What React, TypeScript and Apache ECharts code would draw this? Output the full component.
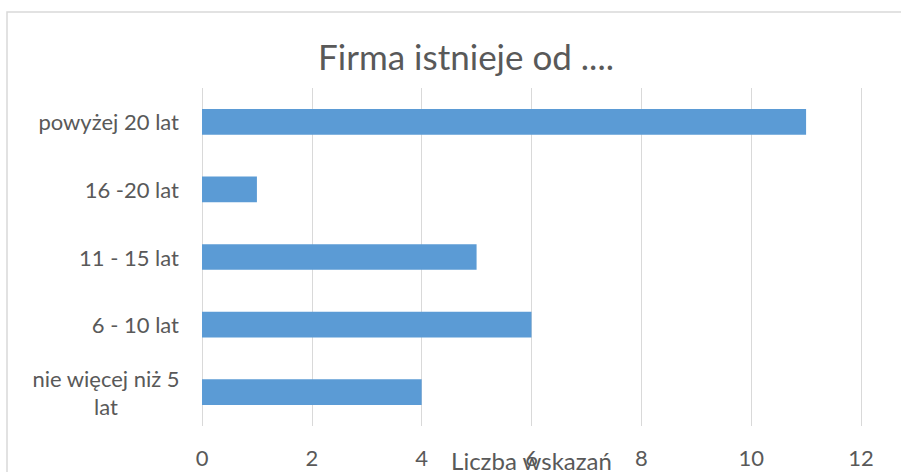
import React, { useEffect, useRef } from "react";
import * as echarts from "echarts";

const title = "Firma istnieje od ....";
const categories = [
  "nie więcej niż 5\nlat",
  "6 - 10 lat",
  "11 - 15 lat",
  "16 -20 lat",
  "powyżej 20 lat",
];
const values = [4, 6, 5, 1, 11];
const xAxisName = "Liczba wskazań";
const xMin = 0;
const xMax = 12;
const xInterval = 2;

const FONT = "Lato, 'Noto Sans', sans-serif";
const GREY = "#595959";

export default function App() {
  const ref = useRef<HTMLDivElement>(null);
  useEffect(() => {
    if (!ref.current) return;
    const chart = echarts.init(ref.current, null, { renderer: "svg" });
    chart.setOption({
      animation: false,
      backgroundColor: "#ffffff",
      title: {
        text: title,
        left: 461,
        top: 33,
        textAlign: "center",
        textStyle: { fontFamily: FONT, fontSize: 35, fontWeight: "normal", color: GREY },
      },
      graphic: [
        {
          type: "rect",
          shape: { x: 7, y: 12, width: 960, height: 540 },
          style: { fill: "none", stroke: "#d9d9d9", lineWidth: 1.5 },
          silent: true,
        },
      ],
      grid: {
        left: 202,
        right: 40,
        top: 88,
        bottom: 46,
        containLabel: false,
        outerBoundsMode: "none",
      },
      xAxis: {
        type: "value",
        min: xMin,
        max: xMax,
        interval: xInterval,
        name: xAxisName,
        nameLocation: "middle",
        nameGap: 22,
        nameMoveOverlap: false,
        nameTextStyle: { fontFamily: FONT, fontSize: 24, color: GREY },
        axisLine: { show: false },
        axisTick: { show: false },
        axisLabel: { fontFamily: FONT, fontSize: 22, color: GREY, margin: 20 },
        splitLine: { show: true, lineStyle: { color: "#d9d9d9", width: 1 } },
      },
      yAxis: {
        type: "category",
        data: categories,
        axisLine: { show: false },
        axisTick: { show: false },
        axisLabel: {
          fontFamily: FONT,
          fontSize: 22,
          color: GREY,
          margin: 23,
          lineHeight: 28,
          formatter: (v: string) =>
            v.includes("\n")
              ? v
                  .split("\n")
                  .map((s) => `{w|${s}}`)
                  .join("\n")
              : v,
          rich: {
            w: {
              fontFamily: FONT,
              fontSize: 22,
              color: GREY,
              width: 146,
              align: "center",
              lineHeight: 28,
            },
          },
        },
      },
      series: [
        {
          type: "bar",
          data: values,
          barWidth: "38%",
          itemStyle: { color: "#5b9bd5" },
        },
      ],
    });
    return () => chart.dispose();
  }, []);
  return (
    <div
      ref={ref}
      style={{ position: "fixed", left: 0, top: 0, width: 901, height: 472 }}
    />
  );
}
